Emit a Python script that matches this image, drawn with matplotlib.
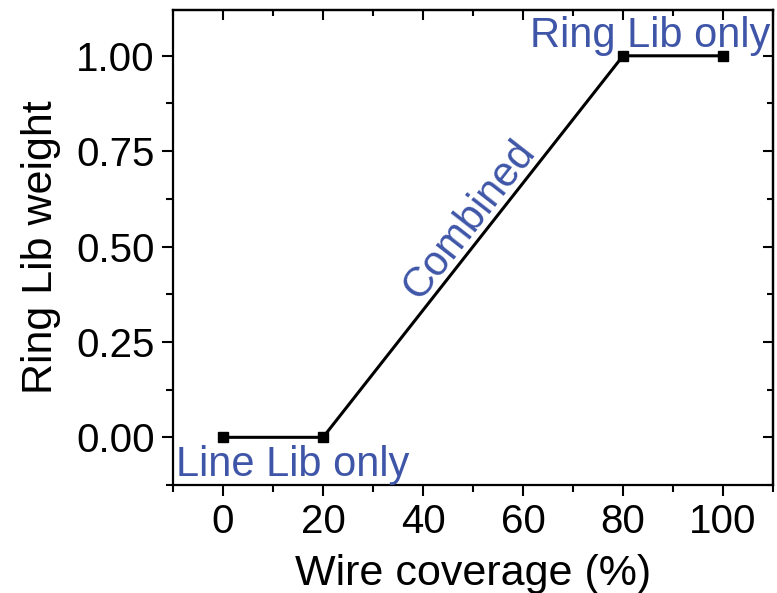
import matplotlib
matplotlib.use("Agg")
import matplotlib.pyplot as plt
from matplotlib.ticker import MultipleLocator

plt.rcParams['font.family'] = ['Liberation Sans', 'DejaVu Sans']

coverage = [0, 20, 80, 100]
weight = [0.0, 0.0, 1.0, 1.0]
xticks = [0, 20, 40, 60, 80, 100]
yticks = [0.0, 0.25, 0.5, 0.75, 1.0]
blue = '#3f56a8'

fig = plt.figure(figsize=(7.77, 5.93), dpi=100)
ax = fig.add_axes([0.2227, 0.1821, 0.7722, 0.801])

ax.plot(coverage, weight, color='black', lw=2.2, marker='s', ms=7.5,
        mfc='black', mec='black')

ax.set_xlim(-10, 110)
ax.set_ylim(-0.125, 1.12)
ax.set_xticks(xticks)
ax.set_yticks(yticks)
ax.set_yticklabels(['%.2f' % v for v in yticks])
ax.xaxis.set_minor_locator(MultipleLocator(10))
ax.yaxis.set_minor_locator(MultipleLocator(0.125))
ax.tick_params(which='both', direction='out', width=1.5, labelsize=29, pad=5)
ax.tick_params(which='major', length=8)
ax.tick_params(which='minor', length=5)
for s in ax.spines.values():
    s.set_linewidth(1.6)

# inward ticks on top and right without labels
top = ax.secondary_xaxis('top')
top.set_xticks(xticks)
top.xaxis.set_minor_locator(MultipleLocator(10))
top.tick_params(which='both', direction='in', width=1.5, labeltop=False)
top.tick_params(which='major', length=7)
top.tick_params(which='minor', length=4)
top.spines['top'].set_linewidth(1.6)
right = ax.secondary_yaxis('right')
right.set_yticks(yticks)
right.yaxis.set_minor_locator(MultipleLocator(0.125))
right.tick_params(which='both', direction='in', width=1.5, labelright=False)
right.tick_params(which='major', length=7)
right.tick_params(which='minor', length=4)
right.spines['right'].set_linewidth(1.6)

ax.set_xlabel('Wire coverage (%)', fontsize=31, labelpad=9)
ax.set_ylabel('Ring Lib weight', fontsize=31, labelpad=11)

ax.text(-9.4, -0.102, 'Line Lib only', color=blue, fontsize=30)
ax.text(61.3, 1.024, 'Ring Lib only', color=blue, fontsize=30)
ax.text(49.3, 0.57, 'Combined', color=blue, fontsize=30, rotation=52,
        ha='center', va='center', rotation_mode='anchor')

fig.savefig('out.png', dpi=100)
